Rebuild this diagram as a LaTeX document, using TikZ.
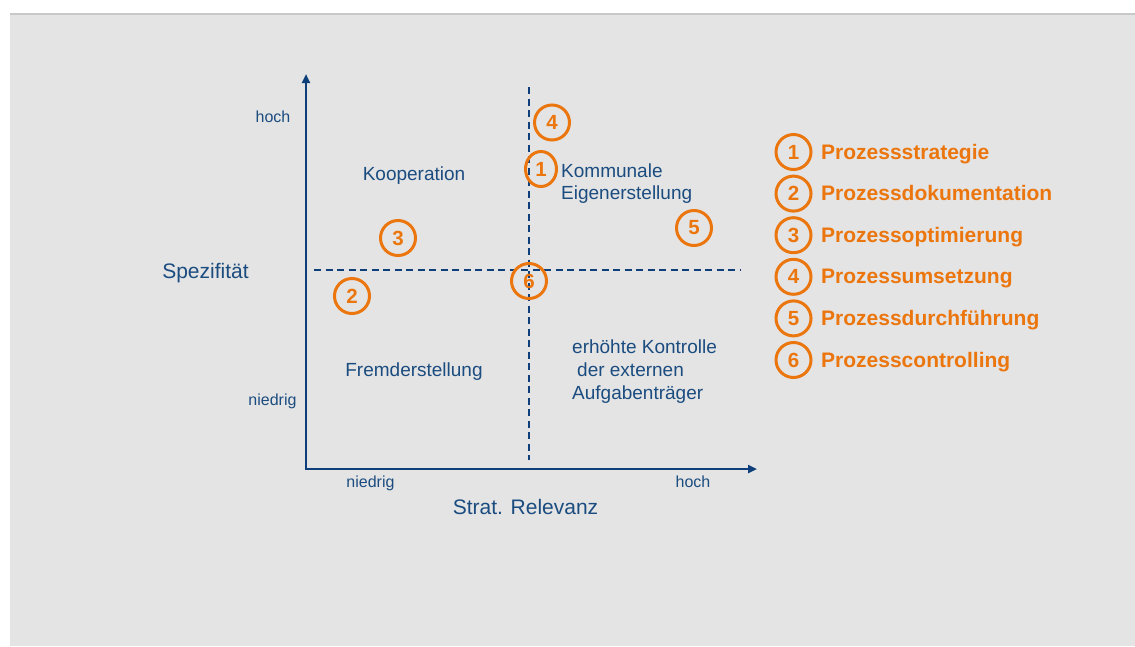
\documentclass[tikz,border=0pt]{standalone}
\usepackage{fontspec}
\setmainfont{Liberation Sans}
\usetikzlibrary{arrows.meta,shapes.geometric}
\definecolor{bg}{HTML}{E4E4E4}
\definecolor{bgline}{HTML}{C8C8C8}
\definecolor{navy}{HTML}{0E3F7A}
\definecolor{txtblue}{HTML}{1B4C80}
\definecolor{org}{HTML}{EC760E}
\begin{document}
\begin{tikzpicture}[x=1pt,y=-1pt,
  lbl/.style={font=\fontsize{16}{19}\selectfont, text=txtblue, inner sep=0pt, anchor=base},
  quad/.style={font=\fontsize{19}{22}\selectfont, text=txtblue, inner sep=0pt},
  big/.style={font=\fontsize{21}{24}\selectfont, text=txtblue, inner sep=0pt, anchor=base},
  num/.style={circle, draw=org, line width=3pt, minimum size=35pt, inner sep=0pt, text=org, font=\bfseries\fontsize{20.5}{23}\selectfont},
  legtxt/.style={font=\bfseries\fontsize{21}{24}\selectfont, text=org, inner sep=0pt, anchor=base west},
  axis/.style={draw=navy, line width=2.5pt, line join=miter},
  gridline/.style={draw=navy, line width=1.3pt, dash pattern=on 7pt off 4.5pt}
]
\useasboundingbox (0,0) rectangle (1135,646);
\fill[bg] (10,14) rectangle (1135,646);
\draw[bgline, line width=1.5pt] (10,14) -- (1135,14);

% axes
\coordinate (O) at (306,469);
\coordinate (ytop) at (306,74);
\coordinate (xend) at (757,469);
\draw[axis, {Triangle[length=9pt,width=8pt]}-{Triangle[length=9pt,width=8pt]}] (ytop) -- (O) -- (xend);

% dashed quadrant lines
\coordinate (hl) at (314,270);
\coordinate (hr) at (740,270);
\coordinate (vt) at (529,87);
\coordinate (vb) at (529,460);
\draw[gridline] (hl) -- (hr);
\draw[gridline] (vt) -- (vb);

% axis labels
\node[lbl] (yhoch) at (273,122) {hoch};
\node[lbl] (yniedrig) at (272.5,405) {niedrig};
\node[big] (ylab) at (205.5,278) {Spezifität};
\node[lbl] (xniedrig) at (370.5,487) {niedrig};
\node[lbl] (xhoch) at (693,487) {hoch};
\node[big] (xlab) at (525.5,514) {Strat. Relevanz};

% quadrant texts
\node[quad, anchor=base] (koop) at (414,180) {Kooperation};
\node[quad, anchor=base west] (komm1) at (561,177) {Kommunale};
\node[quad, anchor=base west] (komm2) at (561,199.5) {Eigenerstellung};
\node[quad, anchor=base] (fremd) at (414,376) {Fremderstellung};
\node[quad, anchor=base west] (kontr1) at (572,353) {erhöhte Kontrolle};
\node[quad, anchor=base west] (kontr2) at (577,376) {der externen};
\node[quad, anchor=base west] (kontr3) at (572,399) {Aufgabenträger};

% numbered circles in the matrix
\node[num] (c4) at (552,122.5) {4};
\node[num, ellipse, minimum width=31pt, minimum height=35pt] (c1) at (541,169) {1};
\node[num] (c5) at (694,228) {5};
\node[num] (c3) at (398,238) {3};
\node[num] (c2) at (352,296) {2};
\node[num] (c6) at (529,281) {6};

% legend
\node[num] (l1) at (793.5,152) {1};
\node[num] (l2) at (793.5,193.6) {2};
\node[num] (l3) at (793.5,235.2) {3};
\node[num] (l4) at (793.5,276.8) {4};
\node[num] (l5) at (793.5,318.4) {5};
\node[num] (l6) at (793.5,360) {6};
\node[legtxt] (t1) at (821,159) {Prozessstrategie};
\node[legtxt] (t2) at (821,200.6) {Prozessdokumentation};
\node[legtxt] (t3) at (821,242.2) {Prozessoptimierung};
\node[legtxt] (t4) at (821,283.8) {Prozessumsetzung};
\node[legtxt] (t5) at (821,325.4) {Prozessdurchführung};
\node[legtxt] (t6) at (821,367) {Prozesscontrolling};
\end{tikzpicture}
\end{document}
